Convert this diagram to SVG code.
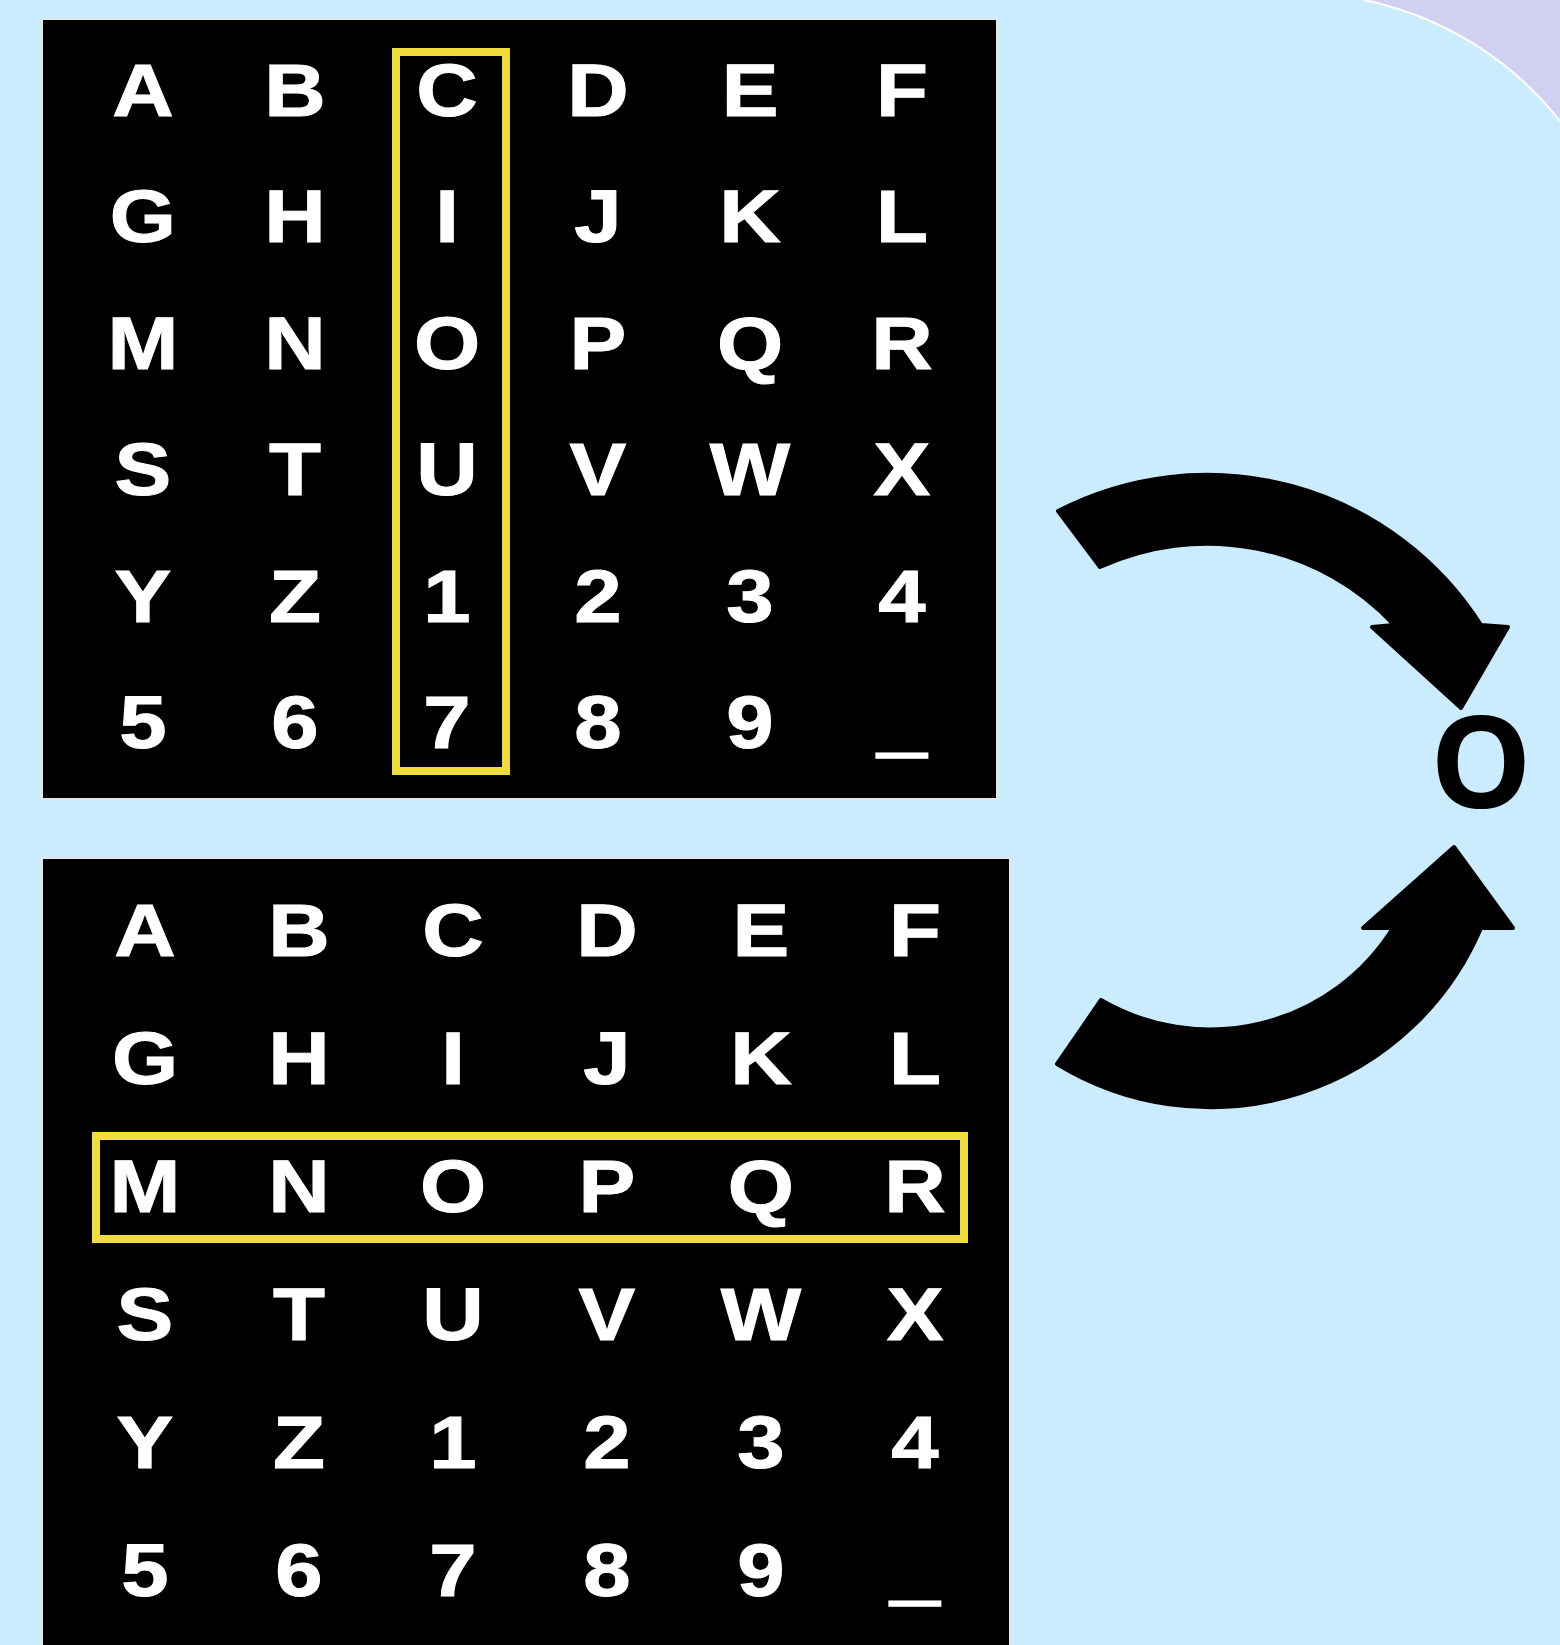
<svg xmlns="http://www.w3.org/2000/svg" width="1560" height="1645" viewBox="0 0 1560 1645">
<style>
.board{fill:#000;stroke:#e6e6e6;stroke-width:2}
.ch{font-family:"Liberation Sans",Arial,sans-serif;font-weight:700;font-size:74px;fill:#fff;stroke:#fff;stroke-width:1;text-anchor:middle}
.us{stroke-width:3.5}
.hl{fill:none;stroke:#f0dc3c;stroke-width:8}
.arrow{fill:#000;stroke:#000;stroke-width:4;stroke-linejoin:round}
.res{font-family:"Open Sans","Liberation Sans",sans-serif;font-weight:700;font-size:128px;fill:#000;text-anchor:middle}
</style>
<rect x="0" y="0" width="1560" height="1645" fill="#d0d0f0"/>
<path d="M0,0 H1364 A336,336 0 0 1 1560,121 V1645 H0 Z" fill="#cbebfe"/>
<path d="M1364,0 A336,336 0 0 1 1560,121" fill="none" stroke="#ffffff" stroke-width="2"/>

<g id="grid-top">
<rect class="board" x="42" y="19" width="955" height="780"/>
<g transform="scale(1.15,1)">
<text class="ch" x="124.3 256.5 388.7 520 652.2 784.3" y="116">ABCDEF</text>
<text class="ch" x="124.3 256.5 388.7 520 652.2 784.3" y="242.5">GHIJKL</text>
<text class="ch" x="124.3 256.5 388.7 520 652.2 784.3" y="369">MNOPQR</text>
<text class="ch" x="124.3 256.5 388.7 520 652.2 784.3" y="495.5">STUVWX</text>
<text class="ch" x="124.3 256.5 388.7 520 652.2 784.3" y="622">YZ1234</text>
<text class="ch" x="124.3 256.5 388.7 520 652.2 784.3" y="748.5">56789<tspan class="us">_</tspan></text>
</g>
<rect class="hl" x="396" y="52" width="110" height="719"/>
</g>

<g id="grid-bottom">
<rect class="board" x="42" y="858" width="968" height="800"/>
<g transform="scale(1.15,1)">
<text class="ch" x="126.1 260 393.9 527.8 661.7 795.7" y="956">ABCDEF</text>
<text class="ch" x="126.1 260 393.9 527.8 661.7 795.7" y="1084">GHIJKL</text>
<text class="ch" x="126.1 260 393.9 527.8 661.7 795.7" y="1212">MNOPQR</text>
<text class="ch" x="126.1 260 393.9 527.8 661.7 795.7" y="1340">STUVWX</text>
<text class="ch" x="126.1 260 393.9 527.8 661.7 795.7" y="1468">YZ1234</text>
<text class="ch" x="126.1 260 393.9 527.8 661.7 795.7" y="1596">56789<tspan class="us">_</tspan></text>
</g>
<rect class="hl" x="96" y="1136" width="868" height="103"/>
</g>

<g id="connectors">
<path class="arrow" d="M1058,511 A325,325 0 0 1 1481,625 L1508,627 L1461,708 L1372,627 L1394,625 A256,256 0 0 0 1100,567 Z"/>
<path class="arrow" d="M1057,1064 A294,294 0 0 0 1481,928 L1513,928 L1454,847 L1363,928 L1393,928 A216,216 0 0 1 1101,1000 Z"/>
</g>

<g id="result">
<text class="res" x="1481" y="808">O</text>
</g>
</svg>
